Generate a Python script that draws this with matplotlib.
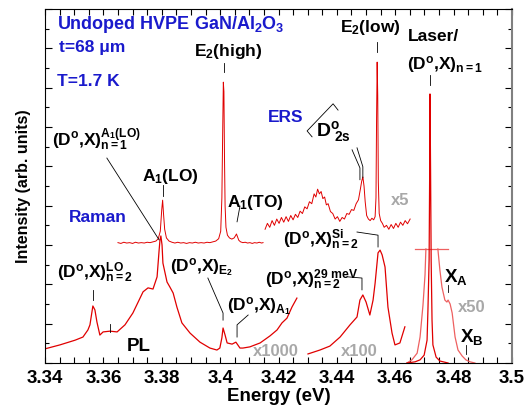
import numpy as np
import matplotlib
matplotlib.use("Agg")
import matplotlib.pyplot as plt
from matplotlib.ticker import MultipleLocator

plt.rcParams['font.family'] = ['Liberation Sans', 'DejaVu Sans']
plt.rcParams['font.weight'] = 'bold'
plt.rcParams['mathtext.fontset'] = 'custom'
plt.rcParams['mathtext.rm'] = 'Liberation Sans:bold'
plt.rcParams['mathtext.it'] = 'Liberation Sans:bold'
plt.rcParams['mathtext.bf'] = 'Liberation Sans:bold'

# ---- spectra (energy in eV, intensity in arb. units) ----
raman_e = [3.3650, 3.3660, 3.3670, 3.3680, 3.3690, 3.3700, 3.3710, 3.3720, 3.3730, 3.3740,
           3.3750, 3.3760, 3.3770, 3.3780, 3.3788, 3.3795, 3.3800, 3.3803, 3.3806, 3.3810,
           3.3816, 3.3825, 3.3835, 3.3845, 3.3855, 3.3865, 3.3875, 3.3885, 3.3895, 3.3905,
           3.3915, 3.3925, 3.3935, 3.3945, 3.3955, 3.3965, 3.3975, 3.3985, 3.3995, 3.4002,
           3.4006, 3.4009, 3.4011, 3.4013, 3.4015, 3.4017, 3.4020, 3.4025, 3.4032, 3.4040,
           3.4048, 3.4053, 3.4056, 3.4059, 3.4064, 3.4070, 3.4078, 3.4086, 3.4094, 3.4102,
           3.4110, 3.4118, 3.4126, 3.4134, 3.4142, 3.4147]
raman_i = [3.06, 3.04, 3.07, 3.05, 3.06, 3.04, 3.07, 3.05, 3.06, 3.05,
           3.07, 3.06, 3.08, 3.10, 3.16, 3.35, 3.90, 4.14, 3.80, 3.40,
           3.18, 3.10, 3.07, 3.05, 3.07, 3.05, 3.06, 3.04, 3.06, 3.05,
           3.07, 3.05, 3.06, 3.05, 3.07, 3.06, 3.08, 3.10, 3.16, 3.35,
           4.20, 6.00, 7.14, 6.90, 5.20, 4.00, 3.45, 3.25, 3.18, 3.15,
           3.18, 3.24, 3.28, 3.22, 3.12, 3.08, 3.06, 3.07, 3.05, 3.06,
           3.04, 3.06, 3.05, 3.07, 3.05, 3.06]

# ERS trace (x5)
ers = [(3.4154, 3.40), (3.4162, 3.55), (3.4170, 3.45), (3.4178, 3.62), (3.4186, 3.50),
       (3.4194, 3.66), (3.4202, 3.55), (3.4210, 3.70), (3.4218, 3.58), (3.4226, 3.72),
       (3.4234, 3.60), (3.4242, 3.75), (3.4250, 3.64), (3.4258, 3.78), (3.4266, 3.70),
       (3.4274, 3.86), (3.4282, 3.80), (3.4290, 3.97), (3.4298, 3.92), (3.4306, 4.10),
       (3.4314, 4.05), (3.4322, 4.30), (3.4328, 4.22), (3.4334, 4.42), (3.4340, 4.30),
       (3.4346, 4.36), (3.4352, 4.18), (3.4358, 4.22), (3.4364, 4.02), (3.4370, 4.05),
       (3.4378, 3.85), (3.4386, 3.80), (3.4394, 3.66), (3.4402, 3.72), (3.4410, 3.60),
       (3.4418, 3.70), (3.4426, 3.66), (3.4434, 3.80), (3.4442, 3.78), (3.4450, 3.90),
       (3.4458, 3.88), (3.4466, 4.05), (3.4474, 4.15), (3.4480, 4.40), (3.4485, 4.62),
       (3.4489, 4.73), (3.4493, 4.50), (3.4497, 4.10), (3.4502, 3.75), (3.4508, 3.66),
       (3.4514, 3.62), (3.4520, 3.68), (3.4526, 3.64), (3.4531, 3.72), (3.4534, 4.20),
       (3.4536, 6.20), (3.4538, 7.65), (3.4540, 6.80), (3.4542, 4.60), (3.4545, 3.80),
       (3.4550, 3.62), (3.4556, 3.55), (3.4562, 3.45), (3.4570, 3.50), (3.4578, 3.40),
       (3.4586, 3.52), (3.4594, 3.42), (3.4602, 3.55), (3.4610, 3.45), (3.4618, 3.58),
       (3.4626, 3.50), (3.4634, 3.62), (3.4642, 3.54), (3.4651, 3.66)]

# PL x1000
pl1000 = [(3.3400, 0.36), (3.3451, 0.46), (3.3503, 0.58), (3.3530, 0.66), (3.3547, 0.84),
          (3.3554, 0.97), (3.3564, 1.45), (3.3571, 1.35), (3.3578, 1.04), (3.3588, 0.71),
          (3.3599, 0.79), (3.3623, 0.81), (3.3647, 0.79), (3.3674, 0.97), (3.3701, 1.27),
          (3.3736, 1.81), (3.3753, 1.91), (3.3770, 1.88), (3.3784, 2.19), (3.3791, 2.87),
          (3.3794, 3.13), (3.3797, 3.23), (3.3801, 3.00), (3.3804, 2.54), (3.3818, 2.06),
          (3.3828, 1.93), (3.3839, 1.78), (3.3852, 1.42), (3.3869, 1.02), (3.3897, 0.76),
          (3.3931, 0.53), (3.3965, 0.38), (3.3989, 0.33), (3.3999, 0.38), (3.4006, 0.64),
          (3.4010, 0.89), (3.4017, 0.71), (3.4024, 0.51), (3.4041, 0.48), (3.4054, 0.53),
          (3.4068, 0.38), (3.4078, 0.38), (3.4102, 0.41), (3.4137, 0.51), (3.4171, 0.69),
          (3.4195, 0.84), (3.4212, 1.02), (3.4229, 1.14), (3.4246, 1.42), (3.4263, 1.65)]

# PL x100
pl100 = [(3.4301, 0.23), (3.4342, 0.33), (3.4376, 0.43), (3.4411, 0.66), (3.4445, 0.97),
         (3.4469, 1.17), (3.4479, 1.60), (3.4489, 1.73), (3.4500, 1.55), (3.4513, 1.22),
         (3.4524, 1.60), (3.4531, 2.03), (3.4541, 2.80), (3.4548, 2.87), (3.4555, 2.75),
         (3.4565, 2.44), (3.4575, 1.42), (3.4589, 0.76), (3.4599, 0.46), (3.4616, 0.51),
         (3.4633, 0.92)]

# PL x1 around laser / (D0,X)n=1
pl1 = [(3.4640, 0.00), (3.4668, 0.03), (3.4685, 0.08), (3.4699, 0.20), (3.4709, 0.58),
       (3.4712, 1.35), (3.4716, 2.62), (3.4718, 4.91), (3.4719, 6.84), (3.4721, 4.91),
       (3.4723, 2.62), (3.4726, 1.09), (3.4729, 0.46), (3.4740, 0.15), (3.4753, 0.05),
       (3.4781, 0.00)]

# PL x50 (clipped at the top)
pl50 = [(3.4640, 0.00), (3.4657, 0.08), (3.4675, 0.25), (3.4685, 0.66), (3.4695, 1.47),
        (3.4702, 2.24), (3.4705, 2.90), (3.4725, np.nan), (3.4746, 2.90), (3.4753, 2.36),
        (3.4760, 1.93), (3.4770, 1.60), (3.4777, 1.55), (3.4781, 1.60), (3.4788, 1.50),
        (3.4795, 1.27), (3.4805, 0.66), (3.4815, 0.33), (3.4829, 0.18), (3.4842, 0.08),
        (3.4856, 0.03), (3.4873, 0.00)]
cut_level = 2.90
cut_span = [3.4667, 3.4781]

xticks = [3.34, 3.36, 3.38, 3.40, 3.42, 3.44, 3.46, 3.48, 3.50]
xtick_labels = ['3.34', '3.36', '3.38', '3.4', '3.42', '3.44', '3.46', '3.48', '3.5']

red = '#e00000'
light_red = '#ee6060'
blue = '#1a1acc'
grey = '#a8a8a8'

fig = plt.figure(figsize=(5.31, 4.13), dpi=100)
ax = fig.add_axes([45/531, 50/413, 467/531, 354/413])

ax.plot(raman_e, raman_i, color=red, lw=0.7)
e, i = np.array(ers).T
ax.plot(e, i, color=red, lw=0.7)
e, i = np.array(pl1000).T
ax.plot(e, i, color=red, lw=0.9)
e, i = np.array(pl100).T
ax.plot(e, i, color=red, lw=0.9)
e, i = np.array(pl50).T
ax.plot(e, i, color=light_red, lw=0.9)
ax.plot(cut_span, [cut_level, cut_level], color=light_red, lw=0.9)
e, i = np.array(pl1).T
ax.plot(e, i, color=red, lw=0.9)

ax.set_xlim(3.34, 3.50)
ax.set_ylim(0, 9)
ax.set_xticks(xticks)
ax.set_xticklabels(xtick_labels, fontsize=13.5, fontweight='bold')
ax.xaxis.set_minor_locator(MultipleLocator(0.005))
ax.yaxis.set_major_locator(MultipleLocator(1))
ax.yaxis.set_minor_locator(MultipleLocator(0.5))
ax.tick_params(which='both', direction='in', top=True, right=True, labelleft=False, width=0.8)
ax.tick_params(axis='x', which='both', length=4, pad=5)
ax.tick_params(axis='y', which='major', length=5)
ax.tick_params(axis='y', which='minor', length=3)
ax.spines['right'].set_color('#808080')
ax.spines['right'].set_linewidth(1.5)
ax.set_xlabel('Energy (eV)', fontsize=13.5, fontweight='bold', labelpad=1)
ax.set_ylabel('Intensity (arb. units)', fontsize=11.5, fontweight='bold', labelpad=10)

# ---- sample info ----
ax.text(0.026, 0.955, r'Undoped HVPE GaN/Al$_{\rm 2}$O$_{\rm 3}$', transform=ax.transAxes,
        color=blue, fontsize=13, va='center')
ax.text(0.030, 0.89, u't=68 \u03bcm', transform=ax.transAxes, color=blue, fontsize=12.5, va='center')
ax.text(0.026, 0.794, 'T=1.7 K', transform=ax.transAxes, color=blue, fontsize=12.5, va='center')
ax.text(3.3582, 3.71, 'Raman', color=blue, fontsize=12.5, ha='center', va='center')
ax.text(3.4226, 6.25, 'ERS', color=blue, fontsize=12.5, ha='center', va='center')

# ---- peak labels ----
fs = 12.5
lc = 'black'
ax.text(3.4027, 7.91, r'E$_{\rm 2}$(high)', fontsize=fs, ha='center', va='center')
ax.plot([3.4013, 3.4013], [7.40, 7.63], color=lc, lw=0.6)
ax.text(3.3828, 4.75, r'A$_{\rm 1}$(LO)', fontsize=fs, ha='center', va='center')
ax.plot([3.3803, 3.3803], [4.25, 4.53], color=lc, lw=0.6)
ax.text(3.4120, 4.07, r'A$_{\rm 1}$(TO)', fontsize=fs, ha='center', va='center')
ax.plot([3.4068, 3.4058], [3.99, 3.59], color=lc, lw=0.6)
ax.text(3.3424, 5.67, r'(D$^{\rm o}$,X)$^{\rm A_1(LO)}_{\rm n=1}$', fontsize=fs, ha='left', va='center')
ax.plot([3.3612, 3.3791], [5.21, 3.13], color=lc, lw=0.6)

ax.text(3.4330, 5.88, r'D$^{\rm o}_{\ \rm 2s}$', fontsize=14, ha='left', va='center')
ax.plot([3.4404, 3.4387, 3.4298, 3.4315], [6.43, 6.59, 5.90, 5.75], color=lc, lw=0.6)
ax.plot([3.4452, 3.4479, 3.4479], [5.42, 4.96, 4.66], color=lc, lw=0.6)
ax.plot([3.4469, 3.4489, 3.4489], [5.47, 4.99, 4.71], color=lc, lw=0.6)

ax.text(3.4514, 8.52, r'E$_{\rm 2}$(low)', fontsize=fs, ha='center', va='center')
ax.plot([3.4537, 3.4537], [7.91, 8.16], color=lc, lw=0.6)
ax.text(3.4644, 8.29, 'Laser/', fontsize=fs, ha='left', va='center')
ax.text(3.4640, 7.58, r'(D$^{\rm o}$,X)$_{\rm n=1}$', fontsize=fs, ha='left', va='center')
ax.plot([3.4719, 3.4719], [7.07, 7.32], color=lc, lw=0.6)

ax.text(3.4215, 3.13, r'(D$^{\rm o}$,X)$^{\rm Si}_{\rm n=2}$', fontsize=fs, ha='left', va='center')
ax.plot([3.4469, 3.4541, 3.4541], [3.33, 3.25, 2.95], color=lc, lw=0.6)
ax.text(3.4154, 2.11, r'(D$^{\rm o}$,X)$^{\rm 29\ meV}_{\rm n=2}$', fontsize=fs, ha='left', va='center')
ax.plot([3.4438, 3.4486, 3.4486], [2.19, 2.16, 1.86], color=lc, lw=0.6)
ax.text(3.3441, 2.29, r'(D$^{\rm o}$,X)$^{\rm LO}_{\rm n=2}$', fontsize=fs, ha='left', va='center')
ax.plot([3.3564, 3.3564], [1.60, 1.86], color=lc, lw=0.6)
ax.plot([3.3623, 3.3623], [0.79, 1.00], color=lc, lw=0.6)
ax.text(3.3722, 0.41, 'PL', fontsize=13.5, ha='center', va='center')
ax.text(3.3828, 2.42, r'(D$^{\rm o}$,X)$_{\rm E_2}$', fontsize=fs, ha='left', va='center')
ax.plot([3.3958, 3.4010, 3.4010], [2.16, 1.27, 1.09], color=lc, lw=0.6)
ax.text(3.4024, 1.42, r'(D$^{\rm o}$,X)$_{\rm A_1}$', fontsize=fs, ha='left', va='center')
ax.plot([3.4096, 3.4058, 3.4058], [1.22, 0.97, 0.66], color=lc, lw=0.6)
ax.text(3.4767, 2.19, r'X$_{\rm A}$', fontsize=13.5, ha='left', va='center')
ax.plot([3.4781, 3.4781], [1.81, 1.98], color=lc, lw=0.6)
ax.text(3.4822, 0.66, r'X$_{\rm B}$', fontsize=13.5, ha='left', va='center')
ax.plot([3.4842, 3.4842], [0.23, 0.46], color=lc, lw=0.6)

# ---- scale factors ----
ax.text(3.4616, 4.14, 'x5', color=grey, fontsize=12, ha='center', va='center')
ax.text(3.4863, 1.40, 'x50', color=grey, fontsize=12, ha='center', va='center')
ax.text(3.4191, 0.28, 'x1000', color=grey, fontsize=12, ha='center', va='center')
ax.text(3.4476, 0.28, 'x100', color=grey, fontsize=12, ha='center', va='center')

fig.savefig('out.png', dpi=100)
